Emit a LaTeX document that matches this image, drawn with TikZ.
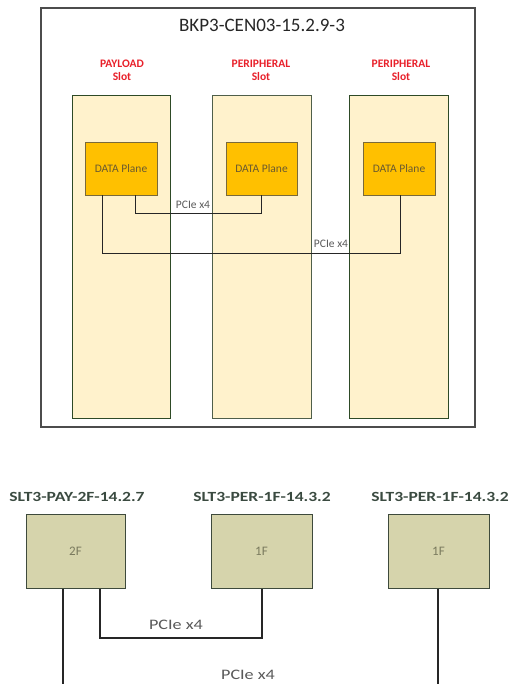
\documentclass[tikz,border=0pt]{standalone}
\usepackage{fontspec}
\setmainfont{Carlito}
\newfontfamily\widefont[FakeStretch=1.25]{Carlito}
\definecolor{slotfill}{HTML}{FFF2CC}
\definecolor{slotdraw}{HTML}{2E4A26}
\definecolor{dpfill}{HTML}{FFC000}
\definecolor{dpdraw}{HTML}{7A6A3A}
\definecolor{dptext}{HTML}{6A5A30}
\definecolor{khaki}{HTML}{D6D4AC}
\definecolor{khakidraw}{HTML}{3E4A3C}
\definecolor{slotred}{HTML}{E8202A}
\definecolor{lbl}{HTML}{3A4A40}
\definecolor{ftext}{HTML}{7A7A5E}
\begin{document}
\begin{tikzpicture}[x=1pt,y=-1pt,
  slotbox/.style={draw=slotdraw,fill=slotfill,line width=0.8pt},
  dpbox/.style={draw=dpdraw,fill=dpfill,line width=0.9pt,inner sep=0pt,font=\fontsize{11.5}{13}\selectfont,text=dptext},
  redlbl/.style={font=\bfseries\fontsize{11.5}{13}\selectfont,text=slotred,align=center},
  thinwire/.style={draw=black!85,line width=0.8pt},
  smalllbl/.style={font=\fontsize{11.5}{13}\selectfont,text=black!65},
  fbox/.style={draw=khakidraw,fill=khaki,line width=1pt,inner sep=0pt,font=\fontsize{13}{14}\selectfont,text=ftext},
  bottomlbl/.style={font=\widefont\bfseries\fontsize{14}{16}\selectfont,text=lbl},
  thickwire/.style={draw=black!85,line width=2.2pt},
  biglbl/.style={font=\widefont\fontsize{14.5}{16}\selectfont,text=black!65}]
\useasboundingbox (0,0) rectangle (510,684);
% outer box
\draw[draw=black!70,line width=1.6pt] (41,8) rectangle (475,427);
\node[font=\fontsize{19}{22}\selectfont,text=black!85] (title) at (262,25) {BKP3-CEN03-15.2.9-3};
% slot labels
\node[redlbl] (l1) at (122,70.5) {PAYLOAD\\Slot};
\node[redlbl] (l2) at (261,70.5) {PERIPHERAL\\Slot};
\node[redlbl] (l3) at (401,70.5) {PERIPHERAL\\Slot};
% slots
\draw[slotbox] (72,95) rectangle (170,418);
\draw[slotbox,draw=slotdraw!60!gray] (212,95) rectangle (311,418);
\draw[slotbox] (349,95) rectangle (448,418);
% data planes
\node[dpbox,minimum width=72pt,minimum height=53pt] (d1) at (121,168.5) {DATA Plane};
\node[dpbox,minimum width=71pt,minimum height=53pt] (d2) at (261.5,168.5) {DATA Plane};
\node[dpbox,minimum width=72pt,minimum height=53pt] (d3) at (399,168.5) {DATA Plane};
% connectors
\draw[thinwire] (d1.south -| 135,0) -- (135,213) -- (261,213) -- (d2.south -| 261,0);
\draw[thinwire] (d1.south -| 102,0) -- (102,253) -- (400,253) -- (d3.south -| 400,0);
\node[smalllbl] (p1) at (193,205) {PCIe x4};
\node[smalllbl] (p2) at (331,244) {PCIe x4};
% bottom section
\node[bottomlbl] (b1) at (77,497) {SLT3-PAY-2F-14.2.7};
\node[bottomlbl] (b2) at (262,497) {SLT3-PER-1F-14.3.2};
\node[bottomlbl] (b3) at (440,497) {SLT3-PER-1F-14.3.2};
\node[fbox,minimum width=99pt,minimum height=74pt] (f1) at (75.5,551) {2F};
\node[fbox,minimum width=101pt,minimum height=74pt] (f2) at (261.5,551) {1F};
\node[fbox,minimum width=101pt,minimum height=74pt] (f3) at (438.5,551) {1F};
\coordinate (e1) at (63,690);
\coordinate (e3) at (438,690);
\draw[thickwire] (f1.south -| e1) -- (e1);
\draw[thickwire] (f3.south -| e3) -- (e3);
\draw[thickwire] (f1.south -| 100,0) -- (100,638) -- (262,638) -- (f2.south -| 262,0);
\node[biglbl] (q1) at (176,625) {PCIe x4};
\node[biglbl] (q2) at (248,675) {PCIe x4};
\end{tikzpicture}
\end{document}
